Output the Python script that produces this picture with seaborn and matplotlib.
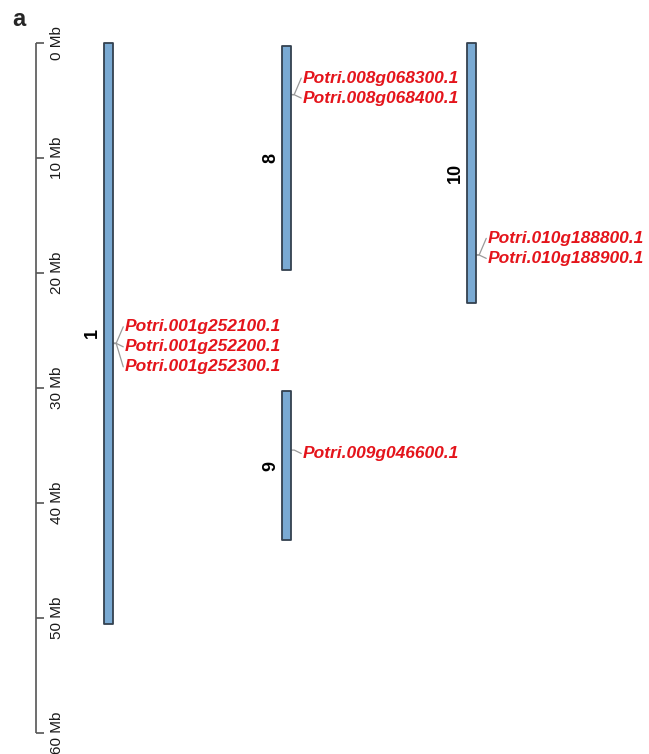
import matplotlib
matplotlib.use("Agg")
import matplotlib.pyplot as plt
import seaborn as sns
import pandas as pd

# Chromosome extents (Mb)
chrom_names = ["1", "8", "9", "10"]
chrom_starts = [0.0, 0.3, 30.3, 0.0]
chrom_ends = [50.5, 19.7, 43.2, 22.6]

# Gene loci (Mb)
gene_ids = [
    "Potri.001g252100.1", "Potri.001g252200.1", "Potri.001g252300.1",
    "Potri.008g068300.1", "Potri.008g068400.1",
    "Potri.010g188800.1", "Potri.010g188900.1",
    "Potri.009g046600.1",
]
gene_chroms = ["1", "1", "1", "8", "8", "10", "10", "9"]
gene_pos = [26.10, 26.12, 26.14, 4.48, 4.50, 18.42, 18.44, 35.40]

# Scale bar
scale_ticks = [0, 10, 20, 30, 40, 50, 60]
scale_labels = ["0 Mb", "10 Mb", "20 Mb", "30 Mb", "40 Mb", "50 Mb", "60 Mb"]

chroms = pd.DataFrame({"name": chrom_names, "start": chrom_starts, "end": chrom_ends})
genes = pd.DataFrame({"gene": gene_ids, "chrom": gene_chroms, "pos": gene_pos})

sns.set_style("white")
plt.rcParams["font.family"] = ["Liberation Sans", "DejaVu Sans"]

# horizontal column layout (figure pixel units on the x axis)
col_x = {"1": 108.5, "8": 286.5, "9": 286.5, "10": 471.5}
bar_w = 9.5
label_gap = 1.74   # vertical spacing between stacked gene labels (Mb)
bar_fill = "#7AAAD3"
bar_edge = "#34414F"
gene_red = "#E4141B"
link_grey = "#9A9A9A"

fig = plt.figure(figsize=(6.49, 7.54), dpi=100)
ax = fig.add_axes([0, 0, 1, 1])
ax.set_xlim(0, 649)
ax.set_ylim(61.83, -3.74)
ax.axis("off")

# scale axis
ax.plot([36, 36], [scale_ticks[0], scale_ticks[-1]], color="#555555", lw=1.2,
        solid_capstyle="butt")
for t, lab in zip(scale_ticks, scale_labels):
    ax.plot([36, 44], [t, t], color="#555555", lw=1.2, solid_capstyle="butt")
    ax.text(57, t, lab, rotation=90, ha="center", va="center", fontsize=11,
            color="#1a1a1a")

# chromosomes
for _, r in chroms.iterrows():
    x = col_x[r["name"]]
    ax.bar(x, r["end"] - r["start"], bottom=r["start"], width=bar_w,
           color=bar_fill, edgecolor=bar_edge, linewidth=1.3, joinstyle="round",
           zorder=2)
    ax.text(x - bar_w / 2 - 11, (r["start"] + r["end"]) / 2, r["name"],
            rotation=90, ha="center", va="center", fontsize=13,
            fontweight="bold", color="black")

# gene labels with connector lines
for chrom, grp in genes.groupby("chrom", sort=False):
    n = len(grp)
    x_edge = col_x[chrom] + bar_w / 2
    anchor = grp["pos"].mean()
    first = -1 if n > 1 else 0
    for i, (_, g) in enumerate(grp.iterrows()):
        ly = anchor + 0.3 + (first + i) * label_gap
        ax.plot([x_edge, x_edge + 3, x_edge + 10], [g["pos"], g["pos"], ly],
                color=link_grey, lw=0.9, zorder=1)
        ax.text(x_edge + 11, ly, g["gene"], ha="left", va="center",
                fontsize=12.5, fontweight="bold", fontstyle="italic",
                color=gene_red)

fig.text(12 / 649, 1 - 19 / 754, "a", ha="left", va="center", fontsize=17,
         fontweight="bold")

fig.savefig("out.png", dpi=100)
